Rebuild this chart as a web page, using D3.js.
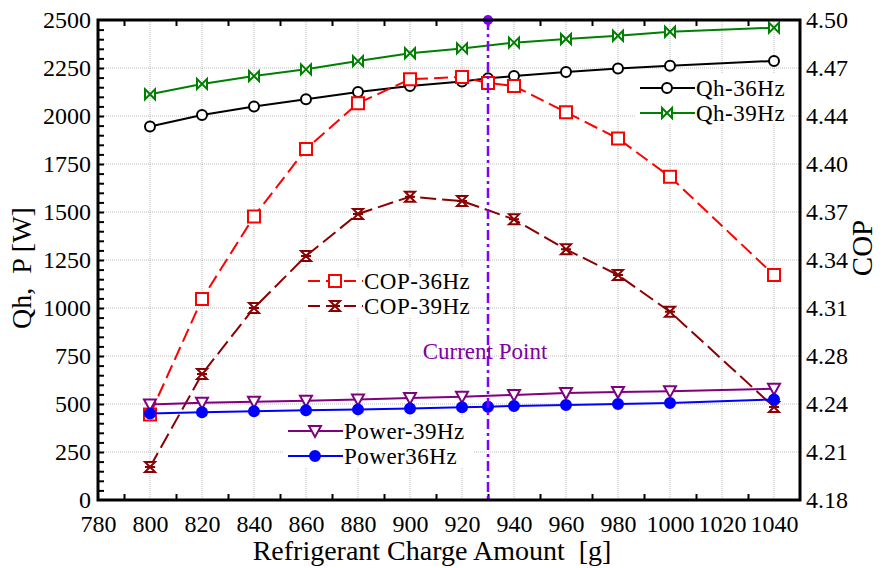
<!DOCTYPE html>
<html>
<head>
<meta charset="utf-8">
<script src="https://cdn.jsdelivr.net/npm/d3@7"></script>
<style>
  body { margin: 0; background: #fff; }
  svg text { font-family: "Liberation Serif", "DejaVu Serif", serif; fill: #000; white-space: pre; }
</style>
</head>
<body>
<div id="canvas"></div>
<script>
// charge amounts [g]
const charge36 = [800, 820, 840, 860, 880, 900, 920, 930, 940, 960, 980, 1000, 1040];
const charge39 = [800, 820, 840, 860, 880, 900, 920, 940, 960, 980, 1000, 1040];

// heating capacity [W]
const qh36 = [1945, 2005, 2049, 2087, 2125, 2156, 2180, 2196, 2208, 2229, 2248, 2262, 2287];
const qh39 = [2113, 2167, 2208, 2243, 2286, 2327, 2352, 2382, 2401, 2418, 2439, 2460];

// COP
const cop36 = [4.237, 4.314, 4.369, 4.414, 4.4445, 4.4605, 4.462, 4.458, 4.456, 4.4385, 4.421, 4.3955, 4.330];
const cop39 = [4.202, 4.264, 4.308, 4.3427, 4.3707, 4.3822, 4.3793, 4.3671, 4.3471, 4.330, 4.3055, 4.242];

// power [W]
const power36 = [451, 457, 462, 467, 472, 477, 483, 486, 490, 495, 500, 505, 524];
const power39 = [498, 507, 512, 517, 524, 531, 538, 547, 557, 562, 567, 580];

const currentPoint = 930;

const xTicks = [780, 800, 820, 840, 860, 880, 900, 920, 940, 960, 980, 1000, 1020, 1040];
const qhTicks = [0, 250, 500, 750, 1000, 1250, 1500, 1750, 2000, 2250, 2500];
const copTickLabels = ['4.18', '4.21', '4.24', '4.28', '4.31', '4.34', '4.37', '4.40', '4.44', '4.47', '4.50'];

const w = 882;
const h = 568;
const pLeft = 98, pRight = 800, pTop = 20, pBottom = 500;
const serif = '"Liberation Serif", "DejaVu Serif", serif';

const x = d3.scaleLinear().domain([780, 1050]).range([pLeft, pRight]);
const yL = d3.scaleLinear().domain([0, 2500]).range([pBottom, pTop]);
const yR = d3.scaleLinear().domain([4.18, 4.50]).range([pBottom, pTop]);

const svg = d3.select('#canvas')
  .append('svg')
  .attr('width', w)
  .attr('height', h);

// grid
svg.append('g')
  .selectAll('line')
  .data(xTicks.slice(1))
  .enter()
  .append('line')
  .attr('x1', d => x(d)).attr('x2', d => x(d))
  .attr('y1', pTop).attr('y2', pBottom)
  .attr('stroke', '#bbb').attr('stroke-width', 1).attr('stroke-dasharray', '1,1');

svg.append('g')
  .selectAll('line')
  .data(qhTicks.slice(1, -1))
  .enter()
  .append('line')
  .attr('x1', pLeft).attr('x2', pRight)
  .attr('y1', d => yL(d)).attr('y2', d => yL(d))
  .attr('stroke', '#bbb').attr('stroke-width', 1).attr('stroke-dasharray', '1,1');

// minor ticks (inward)
const minorX = d3.range(790, 1050, 20);
const minorY = d3.range(50, 2500, 50);

svg.append('g').attr('transform', 'translate(0,' + pBottom + ')')
  .call(d3.axisBottom(x).tickValues(minorX).tickSize(-6).tickFormat(''))
  .call(g => g.select('.domain').remove());
svg.append('g').attr('transform', 'translate(0,' + pTop + ')')
  .call(d3.axisTop(x).tickValues(minorX).tickSize(-6).tickFormat(''))
  .call(g => g.select('.domain').remove());
svg.append('g').attr('transform', 'translate(' + pLeft + ',0)')
  .call(d3.axisLeft(yL).tickValues(minorY).tickSize(-6).tickFormat(''))
  .call(g => g.select('.domain').remove());
svg.selectAll('.tick line').attr('stroke', '#000').attr('stroke-width', 2);

// tick labels
function labelStyle(g) {
  g.select('.domain').remove();
  g.attr('font-family', serif).attr('font-size', 24);
  g.selectAll('text').attr('fill', '#000');
}

svg.append('g').attr('transform', 'translate(0,' + pBottom + ')')
  .call(d3.axisBottom(x).tickValues(xTicks).tickSize(0).tickPadding(15).tickFormat(d3.format('d')))
  .call(labelStyle);

svg.append('g').attr('transform', 'translate(' + (pLeft - 3) + ',0)')
  .call(d3.axisLeft(yL).tickValues(qhTicks).tickSize(0).tickPadding(4).tickFormat(d3.format('d')))
  .call(labelStyle);

const copStep = (4.50 - 4.18) / (copTickLabels.length - 1);
svg.append('g').attr('transform', 'translate(' + pRight + ',0)')
  .call(d3.axisRight(yR).tickValues(copTickLabels.map((d, i) => 4.18 + i * copStep)).tickSize(0).tickPadding(6)
    .tickFormat((d, i) => copTickLabels[i]))
  .call(labelStyle);

// axis titles
svg.append('text')
  .attr('x', 432).attr('y', 560)
  .attr('text-anchor', 'middle')
  .style('font-size', '28px')
  .text('Refrigerant Charge Amount  [g]');

svg.append('text')
  .attr('transform', 'translate(31,268) rotate(-90)')
  .attr('text-anchor', 'middle')
  .style('font-size', '28px')
  .text('Qh,  P [W]');

svg.append('text')
  .attr('transform', 'translate(872,248) rotate(-90)')
  .attr('text-anchor', 'middle')
  .style('font-size', '29px')
  .text('COP');

// marker shapes
const shapes = {
  circle: 'M5,0A5,5 0 1,1 -5,0A5,5 0 1,1 5,0Z',
  bowtie: 'M-5,-5L5,5L5,-5L-5,5Z',
  square: 'M-6,-6L6,-6L6,6L-6,6Z',
  hourglass: 'M-5,-5L5,-5L-5,5L5,5Z M-5,0L5,0',
  triDown: 'M-6,-5L6,-5L0,6Z',
  dot: 'M5,0A5,5 0 1,1 -5,0A5,5 0 1,1 5,0Z'
};

const series = [
  { name: 'Qh-36Hz', xs: charge36, ys: qh36, scale: yL, color: '#000000', dash: null, shape: 'circle', fill: '#fff' },
  { name: 'Qh-39Hz', xs: charge39, ys: qh39, scale: yL, color: '#008000', dash: null, shape: 'bowtie', fill: '#fff' },
  { name: 'COP-36Hz', xs: charge36, ys: cop36, scale: yR, color: '#ff0000', dash: '14,6', shape: 'square', fill: '#fff' },
  { name: 'COP-39Hz', xs: charge39, ys: cop39, scale: yR, color: '#8b0000', dash: '16,6', shape: 'hourglass', fill: '#fff' },
  { name: 'Power-39Hz', xs: charge39, ys: power39, scale: yL, color: '#800080', dash: null, shape: 'triDown', fill: '#fff' },
  { name: 'Power36Hz', xs: charge36, ys: power36, scale: yL, color: '#0000ff', dash: null, shape: 'dot', fill: '#0000ff' }
];

series.forEach(s => {
  const pts = s.xs.map((d, i) => [d, s.ys[i]]);
  const line = d3.line().x(d => x(d[0])).y(d => s.scale(d[1]));
  svg.append('path')
    .datum(pts)
    .attr('d', line)
    .attr('fill', 'none')
    .attr('stroke', s.color)
    .attr('stroke-width', 2)
    .attr('stroke-dasharray', s.dash);
  svg.append('g')
    .selectAll('path')
    .data(pts)
    .enter()
    .append('path')
    .attr('transform', d => 'translate(' + x(d[0]) + ',' + s.scale(d[1]) + ')')
    .attr('d', shapes[s.shape])
    .attr('fill', s.fill)
    .attr('stroke', s.color)
    .attr('stroke-width', 2);
});

// current point
svg.append('line')
  .attr('x1', x(currentPoint)).attr('x2', x(currentPoint))
  .attr('y1', pTop).attr('y2', pBottom)
  .attr('stroke', '#7f00ff').attr('stroke-width', 2.5)
  .attr('stroke-dasharray', '10,4,3,4');
svg.append('circle')
  .attr('cx', x(currentPoint)).attr('cy', pTop)
  .attr('r', 5).attr('fill', '#7f00ff');
svg.append('text')
  .attr('x', x(currentPoint) - 3).attr('y', 359)
  .attr('text-anchor', 'middle')
  .style('font-size', '23px')
  .style('fill', '#8000a0')
  .text('Current Point');

// legends
function legend(items, lx, ly, bw, bh) {
  const g = svg.append('g').attr('transform', 'translate(' + lx + ',' + ly + ')');
  g.append('rect').attr('x', -4).attr('y', -14).attr('width', bw).attr('height', bh).attr('fill', '#fff');
  items.forEach((s, i) => {
    const row = g.append('g').attr('transform', 'translate(0,' + (i * 25) + ')');
    row.append('line')
      .attr('x1', 0).attr('x2', 55).attr('y1', 0).attr('y2', 0)
      .attr('stroke', s.color).attr('stroke-width', 2)
      .attr('stroke-dasharray', s.dash ? '12,6' : null);
    row.append('path')
      .attr('transform', 'translate(27,0)')
      .attr('d', shapes[s.shape])
      .attr('fill', s.fill)
      .attr('stroke', s.color)
      .attr('stroke-width', 2);
    row.append('text')
      .attr('x', 56).attr('y', 8)
      .style('font-size', '23px')
      .style('letter-spacing', '0.5px')
      .text(s.name);
  });
}

legend([series[0], series[1]], 640, 88, 154, 50);
legend([series[2], series[3]], 308, 281, 162, 50);
legend([series[4], series[5]], 288, 431, 190, 50);

// frame
svg.append('rect')
  .attr('x', pLeft).attr('y', pTop)
  .attr('width', pRight - pLeft).attr('height', pBottom - pTop)
  .attr('fill', 'none').attr('stroke', '#000').attr('stroke-width', 3);
</script>
</body>
</html>
